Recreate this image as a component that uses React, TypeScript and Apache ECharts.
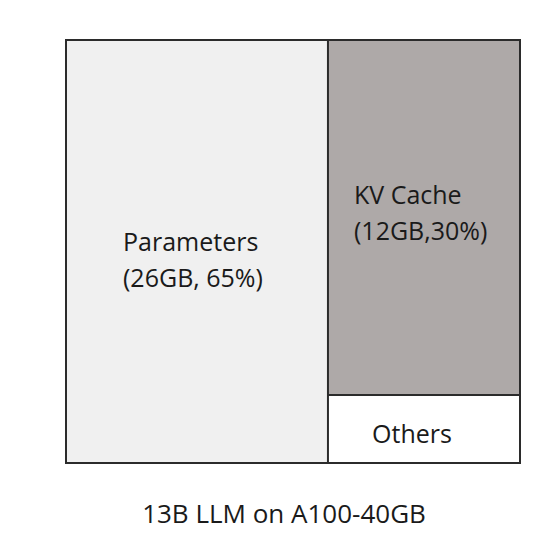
import React, { useEffect, useRef } from "react";
import * as echarts from "echarts";

// Memory breakdown of a 13B LLM on an A100-40GB (area shares as drawn in the figure, %)
const names = ["Parameters", "KV Cache", "Others"];
const areaShare = [57.7, 35.5, 6.8];
const labelTexts = ["Parameters\n(26GB, 65%)", "KV Cache\n(12GB,30%)", "Others"];
const fills = ["#f0f0f0", "#aea9a8", "#ffffff"];
const caption = "13B LLM on A100-40GB";

const FONT = "'Open Sans', sans-serif";

export default function App() {
  const ref = useRef<HTMLDivElement>(null);
  useEffect(() => {
    document.body.style.margin = "0";
    if (!ref.current) return;
    const chart = echarts.init(ref.current, undefined, { renderer: "svg" });
    const labelPos: any[] = [
      { position: [51, 218], align: "left", verticalAlign: "middle" },
      { position: [20, 171], align: "left", verticalAlign: "middle" },
      { position: [83, 37], align: "center", verticalAlign: "middle" },
    ];
    chart.setOption({
      animation: false,
      graphic: [
        {
          type: "text",
          x: 284,
          y: 513,
          style: {
            text: caption,
            fontFamily: FONT,
            fontSize: 26,
            fill: "#1a1a1a",
            align: "center",
            verticalAlign: "middle",
          },
        },
      ],
      series: [
        {
          type: "treemap",
          left: 65,
          top: 39,
          width: 456,
          height: 425,
          roam: false,
          nodeClick: false,
          breadcrumb: { show: false },
          sort: "desc",
          squareRatio: 1,
          emphasis: { disabled: true },
          levels: [
            { itemStyle: { borderWidth: 1, borderColor: "#2b2b2b", gapWidth: 0 } },
            { itemStyle: { borderWidth: 1, borderColor: "#2b2b2b", gapWidth: 0 } },
          ],
          data: names.map((n, i) => ({
            name: n,
            value: areaShare[i],
            itemStyle: { color: fills[i], borderColor: "#2b2b2b", borderWidth: 1 },
            label: {
              show: true,
              formatter: () => labelTexts[i],
              color: "#1a1a1a",
              fontFamily: FONT,
              fontSize: 25,
              lineHeight: 36,
              ...labelPos[i],
            },
          })),
        },
      ],
    });
    return () => chart.dispose();
  }, []);
  return <div ref={ref} style={{ width: 544, height: 535 }} />;
}
